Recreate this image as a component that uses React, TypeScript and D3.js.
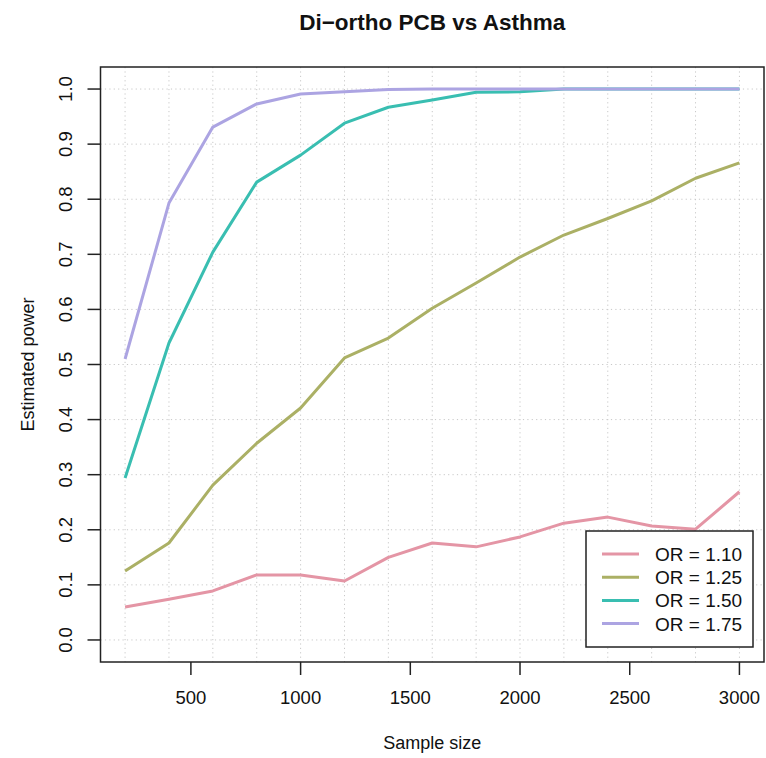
import React from "react";
import * as d3 from "d3";

const sampleSizes = [200, 400, 600, 800, 1000, 1200, 1400, 1600, 1800, 2000, 2200, 2400, 2600, 2800, 3000];
const seriesNames = ["OR = 1.10", "OR = 1.25", "OR = 1.50", "OR = 1.75"];
const or110 = [0.060, 0.074, 0.089, 0.118, 0.118, 0.107, 0.150, 0.176, 0.169, 0.187, 0.212, 0.223, 0.207, 0.201, 0.269];
const or125 = [0.125, 0.176, 0.281, 0.357, 0.421, 0.512, 0.548, 0.602, 0.648, 0.695, 0.735, 0.765, 0.797, 0.838, 0.866];
const or150 = [0.294, 0.539, 0.704, 0.831, 0.880, 0.938, 0.967, 0.980, 0.994, 0.995, 1.0, 1.0, 1.0, 1.0, 1.0];
const or175 = [0.510, 0.793, 0.931, 0.973, 0.991, 0.995, 0.999, 1.0, 1.0, 1.0, 1.0, 1.0, 1.0, 1.0, 1.0];
const seriesColors = ["#E495A5", "#ABB065", "#39BEB1", "#ACA4E2"];
const xTicks = [500, 1000, 1500, 2000, 2500, 3000];
const yTicks = [0, 0.1, 0.2, 0.3, 0.4, 0.5, 0.6, 0.7, 0.8, 0.9, 1.0];
const xGrid = sampleSizes;

const W = 766;
const H = 758;
const L = 100.5, R = 764, T = 67, B = 662;

export default function App() {
  const allSeries = [or110, or125, or150, or175];
  const xPad = (3000 - 200) * 0.04;
  const x = d3.scaleLinear().domain([200 - xPad, 3000 + xPad]).range([L, R]);
  const y = d3.scaleLinear().domain([-0.04, 1.04]).range([B, T]);
  const line = d3
    .line<[number, number]>()
    .x((d) => x(d[0]))
    .y((d) => y(d[1]));
  const font = "'Liberation Sans', Arial, Helvetica, sans-serif";
  const legX = 586, legY = 531, legW = 167, legH = 116;
  const rowY = (i: number) => 554 + i * 23.2;

  return (
    <svg
      width={W}
      height={H}
      style={{ position: "absolute", left: 0, top: 0, background: "#fff" }}
      fontFamily={font}
    >
      <rect x={0} y={0} width={W} height={H} fill="#fff" />
      {/* grid */}
      {yTicks.map((t) => (
        <line key={"gy" + t} x1={L} x2={R} y1={y(t)} y2={y(t)} stroke="#c8c8c8" strokeWidth={1} strokeDasharray="1.2,3.2" />
      ))}
      {xGrid.map((t) => (
        <line key={"gx" + t} x1={x(t)} x2={x(t)} y1={T} y2={B} stroke="#c8c8c8" strokeWidth={1} strokeDasharray="1.2,3.2" />
      ))}
      {/* series */}
      {allSeries.map((vals, i) => (
        <path
          key={seriesNames[i]}
          d={line(sampleSizes.map((s, j) => [s, vals[j]] as [number, number])) || ""}
          fill="none"
          stroke={seriesColors[i]}
          strokeWidth={3}
          strokeLinejoin="round"
        />
      ))}
      {/* box */}
      <rect x={L} y={T} width={R - L} height={B - T} fill="none" stroke="#222" strokeWidth={1.5} />
      {/* x axis */}
      {xTicks.map((t) => (
        <g key={"xt" + t}>
          <line x1={x(t)} x2={x(t)} y1={B} y2={B + 13} stroke="#222" strokeWidth={1.5} />
          <text x={x(t)} y={704} textAnchor="middle" fontSize={18.5} fill="#111">
            {t}
          </text>
        </g>
      ))}
      {/* y axis */}
      {yTicks.map((t) => (
        <g key={"yt" + t}>
          <line x1={L - 13} x2={L} y1={y(t)} y2={y(t)} stroke="#222" strokeWidth={1.5} />
          <text
            transform={`translate(72,${y(t)}) rotate(-90)`}
            textAnchor="middle"
            fontSize={18.5}
            fill="#111"
          >
            {t.toFixed(1)}
          </text>
        </g>
      ))}
      {/* titles */}
      <text x={(L + R) / 2} y={30} textAnchor="middle" fontSize={22.5} fontWeight="bold" fill="#111">
        Di−ortho PCB vs Asthma
      </text>
      <text x={(L + R) / 2} y={749} textAnchor="middle" fontSize={18} fill="#111">
        Sample size
      </text>
      <text
        transform={`translate(34,${(T + B) / 2}) rotate(-90)`}
        textAnchor="middle"
        fontSize={18}
        fill="#111"
      >
        Estimated power
      </text>
      {/* legend */}
      <rect x={legX} y={legY} width={legW} height={legH} fill="#fff" stroke="#222" strokeWidth={1.5} />
      {seriesNames.map((n, i) => (
        <g key={"lg" + n}>
          <line x1={602} x2={639} y1={rowY(i)} y2={rowY(i)} stroke={seriesColors[i]} strokeWidth={3} />
          <text x={655} y={rowY(i) + 7} fontSize={19} fill="#111">
            {n}
          </text>
        </g>
      ))}
    </svg>
  );
}
